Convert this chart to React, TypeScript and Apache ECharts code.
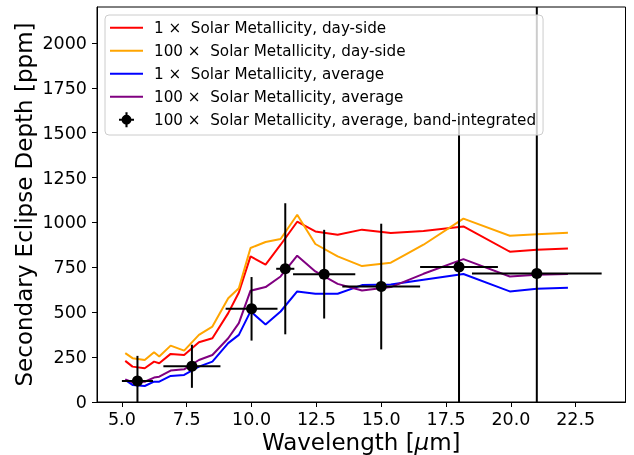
import React, { useEffect, useRef } from "react";
import * as echarts from "echarts";

// Model spectra (wavelength in micron, eclipse depth in ppm)
const wavelengths = [5.13, 5.41, 5.88, 6.24, 6.44, 6.88, 7.4, 7.97, 8.49, 9.1, 9.51, 9.96, 10.54, 11.12, 11.76, 12.46, 13.32, 14.26, 15.37, 16.63, 18.17, 19.96, 21.0, 22.2];
const solar1DaySide = [229, 197, 188, 225, 216, 268, 262, 333, 355, 495, 610, 811, 765, 876, 1004, 950, 932, 960, 941, 953, 978, 837, 848, 855];
const solar100DaySide = [272, 244, 234, 277, 253, 314, 286, 374, 420, 578, 634, 858, 891, 908, 1043, 880, 811, 757, 776, 876, 1021, 926, 934, 942];
const solar1Average = [123, 95, 89, 113, 113, 145, 151, 197, 225, 328, 374, 505, 432, 504, 616, 603, 603, 651, 655, 681, 713, 616, 631, 637];
const solar100Average = [125, 110, 113, 136, 141, 175, 182, 234, 262, 355, 439, 620, 640, 699, 815, 727, 658, 621, 640, 714, 796, 699, 709, 713];

// Band-integrated points
const bandCenters = [5.6, 7.7, 10.0, 11.3, 12.8, 15.0, 18.0, 21.0];
const bandDepths = [117, 199, 519, 742, 712, 643, 752, 716];
const bandHalfWidths = [0.6, 1.1, 1.0, 0.35, 1.2, 1.5, 1.5, 2.5];
const bandDepthErrors = [140, 120, 177, 365, 247, 350, 810, 1550];

const xTicks = [5, 7.5, 10, 12.5, 15, 17.5, 20, 22.5];
const yTicks = [0, 250, 500, 750, 1000, 1250, 1500, 1750, 2000];

const seriesNames = [
  "1 × \u00a0Solar Metallicity, day-side",
  "100 × \u00a0Solar Metallicity, day-side",
  "1 × \u00a0Solar Metallicity, average",
  "100 × \u00a0Solar Metallicity, average",
  "100 × \u00a0Solar Metallicity, average, band-integrated",
];

const FONT = "DejaVu Sans";
const lineIcon = "path://M0 0H40V2.4H0Z";
const errIcon =
  "path://M0 8.6H20V11.4H0Z M8.6 0H11.4V20H8.6Z M16.6 10A6.6 6.6 0 1 1 3.4 10A6.6 6.6 0 1 1 16.6 10Z";

export default function App() {
  const ref = useRef<HTMLDivElement>(null);
  useEffect(() => {
    if (!ref.current) return;
    const chart = echarts.init(ref.current, null, { renderer: "svg" });
    const lineSeries = (name: string, values: number[], color: string) => ({
      name,
      type: "line",
      data: wavelengths.map((w, i) => [w, values[i]]),
      symbol: "none",
      lineStyle: { color, width: 2 },
      itemStyle: { color },
      z: 2,
    });
    chart.setOption({
      animation: false,
      textStyle: { fontFamily: FONT },
      grid: {
        left: 97,
        right: 8.5,
        top: 7,
        bottom: 53,
        outerBoundsMode: "none",
        containLabel: false,
        show: true,
        borderColor: "#000",
        borderWidth: 1,
        backgroundColor: "transparent",
      },
      legend: {
        orient: "vertical",
        left: 105,
        top: 15,
        padding: [5.2, 7, 7.8, 5],
        itemWidth: 33,
        itemHeight: 15,
        itemGap: 8,
        backgroundColor: "rgba(255,255,255,0.8)",
        borderColor: "#cccccc",
        borderWidth: 1,
        borderRadius: 4,
        textStyle: {
          fontFamily: FONT,
          fontSize: 15.2,
          color: "#000",
          lineHeight: 15,
          padding: [0, 0, 0, 6],
        },
        data: [
          { name: seriesNames[0], icon: lineIcon },
          { name: seriesNames[1], icon: lineIcon },
          { name: seriesNames[2], icon: lineIcon },
          { name: seriesNames[3], icon: lineIcon },
          { name: seriesNames[4], icon: errIcon },
        ],
        z: 10,
      },
      xAxis: {
        type: "value",
        min: 4.04,
        max: 24.42,
        name: "Wavelength [{mu|μ}m]",
        nameLocation: "middle",
        nameGap: 28,
        nameMoveOverlap: false,
        nameTextStyle: {
          fontFamily: FONT,
          fontSize: 23,
          lineHeight: 23,
          verticalAlign: "top",
          color: "#000",
          rich: { mu: { fontFamily: FONT, fontSize: 23, lineHeight: 23, fontStyle: "italic", color: "#000" } },
        },
        axisLine: { show: true, lineStyle: { color: "#000", width: 1 } },
        axisTick: { show: true, inside: false, length: 5, customValues: xTicks, lineStyle: { color: "#000", width: 1 } },
        axisLabel: {
          customValues: xTicks,
          margin: 8,
          fontFamily: FONT,
          fontSize: 17.5,
          color: "#000",
          formatter: (v: number) => v.toFixed(1),
        },
        splitLine: { show: false },
      },
      yAxis: {
        type: "value",
        min: 0,
        max: 2200,
        name: "Secondary Eclipse Depth [ppm]",
        nameLocation: "middle",
        nameGap: 62,
        nameMoveOverlap: false,
        nameTextStyle: { fontFamily: FONT, fontSize: 23, color: "#000" },
        axisLine: { show: true, lineStyle: { color: "#000", width: 1 } },
        axisTick: { show: true, inside: false, length: 5, customValues: yTicks, lineStyle: { color: "#000", width: 1 } },
        axisLabel: {
          customValues: yTicks,
          margin: 10,
          fontFamily: FONT,
          fontSize: 17.5,
          color: "#000",
          formatter: (v: number) => String(v),
        },
        splitLine: { show: false },
      },
      series: [
        lineSeries(seriesNames[0], solar1DaySide, "#ff0000"),
        lineSeries(seriesNames[1], solar100DaySide, "#ffa500"),
        lineSeries(seriesNames[2], solar1Average, "#0000ff"),
        lineSeries(seriesNames[3], solar100Average, "#800080"),
        {
          name: seriesNames[4],
          type: "custom",
          clip: true,
          z: 3,
          itemStyle: { color: "#000" },
          encode: { x: 0, y: 1 },
          data: bandCenters.map((x, i) => [x, bandDepths[i], bandHalfWidths[i], bandDepthErrors[i]]),
          renderItem: (params: any, api: any) => {
            const x = api.value(0);
            const y = api.value(1);
            const xe = api.value(2);
            const ye = api.value(3);
            const c = api.coord([x, y]);
            const l = api.coord([x - xe, y]);
            const r = api.coord([x + xe, y]);
            const t = api.coord([x, y + ye]);
            const b = api.coord([x, y - ye]);
            const st = { stroke: "#000", lineWidth: 2 };
            return {
              type: "group",
              children: [
                { type: "line", shape: { x1: l[0], y1: l[1], x2: r[0], y2: r[1] }, style: st },
                { type: "line", shape: { x1: t[0], y1: t[1], x2: b[0], y2: b[1] }, style: st },
                { type: "circle", shape: { cx: c[0], cy: c[1], r: 5.5 }, style: { fill: "#000" } },
              ],
            };
          },
        },
      ],
    });
    return () => chart.dispose();
  }, []);
  return <div ref={ref} style={{ position: "fixed", left: 0, top: 0, width: 634, height: 455 }} />;
}
